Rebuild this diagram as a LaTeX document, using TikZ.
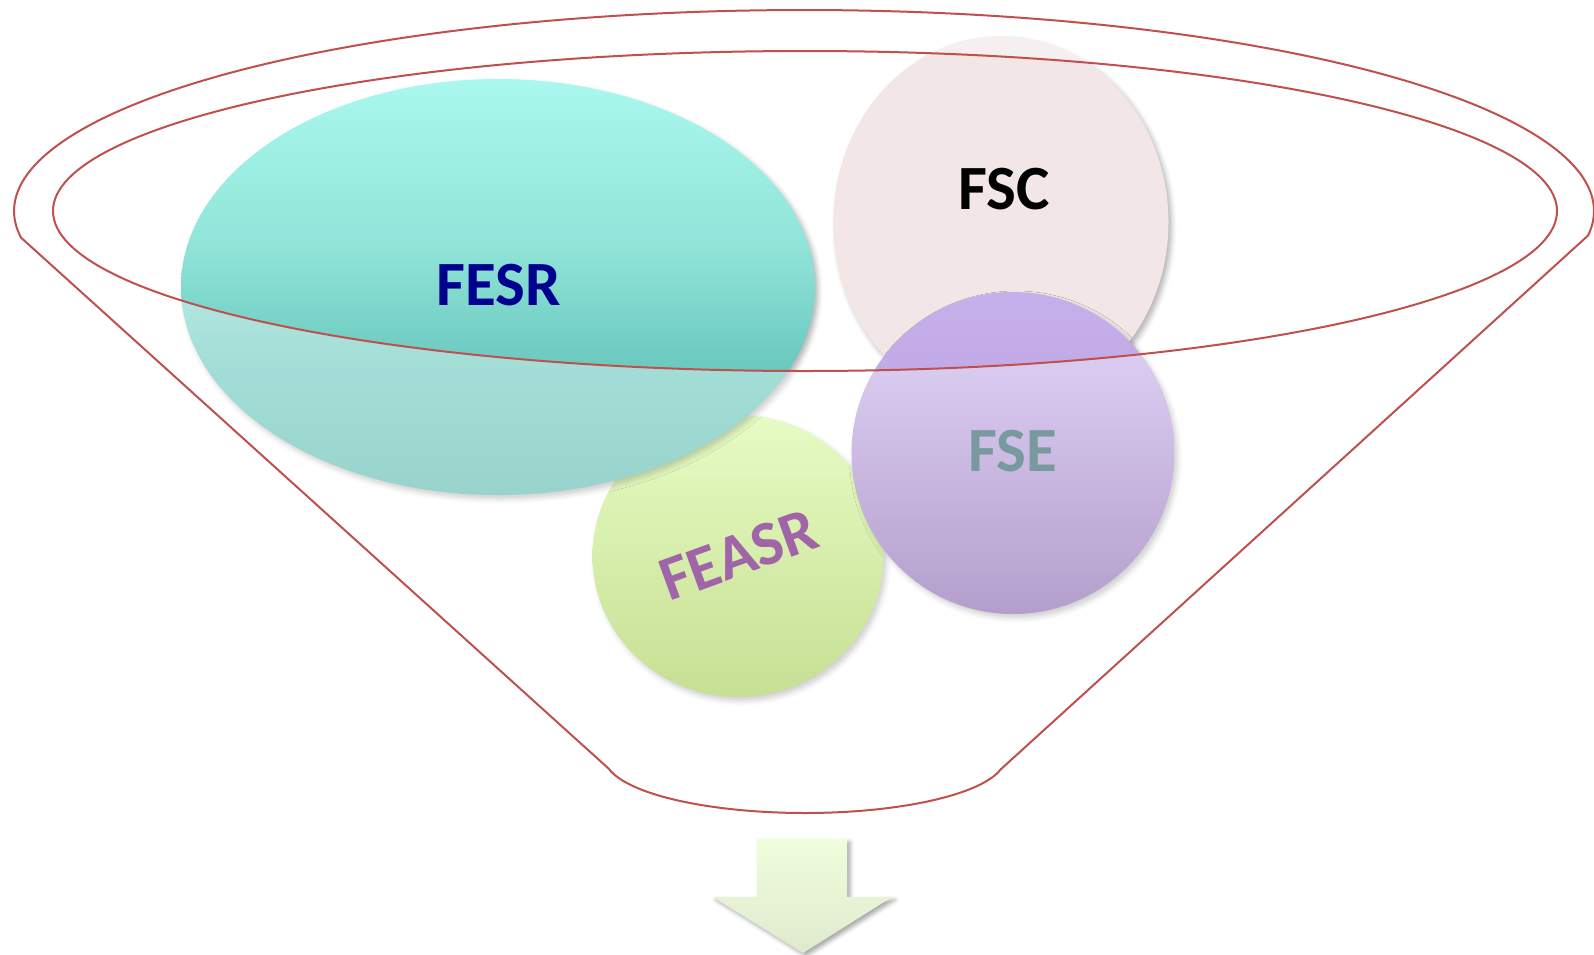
\documentclass[tikz,border=0pt]{standalone}
\usepackage{fontspec}
\setmainfont{Carlito}
\usetikzlibrary{shadows.blur,shapes.geometric}
\definecolor{lineRed}{HTML}{C0504D}
\definecolor{fesrT}{HTML}{AAF8EE}
\definecolor{fesrU}{HTML}{90E4D8}
\definecolor{fesrM}{HTML}{6CCAC0}
\definecolor{fesrB}{HTML}{59B9AD}
\definecolor{fseT}{HTML}{C6B0EC}
\definecolor{fseM}{HTML}{C2AAE6}
\definecolor{fseB}{HTML}{8664AD}
\definecolor{feasrT}{HTML}{D7FAA0}
\definecolor{feasrB}{HTML}{A6CD52}
\definecolor{fscFill}{HTML}{F2E6E6}
\definecolor{arrT}{HTML}{F0FEDC}
\definecolor{arrB}{HTML}{DFEACD}
\definecolor{fesrText}{HTML}{00008F}
\definecolor{fseText}{HTML}{789A9E}
\definecolor{feasrText}{HTML}{A064A8}
\pgfdeclareverticalshading{fesrsh}{100bp}{color(0bp)=(fesrB); color(25bp)=(fesrB); color(41bp)=(fesrM); color(55bp)=(fesrU); color(75bp)=(fesrT); color(100bp)=(fesrT)}
\pgfdeclareverticalshading{fsesh}{100bp}{color(0bp)=(fseB); color(25bp)=(fseB); color(63bp)=(fseM); color(75bp)=(fseT); color(100bp)=(fseT)}
\tikzset{
  blob/.style={ellipse, inner sep=0pt, outer sep=0pt,
    blur shadow={shadow xshift=3pt, shadow yshift=-4pt, shadow blur radius=5pt, shadow opacity=30}},
  funnelline/.style={draw=lineRed, line width=2pt, line join=round},
  funnelveil/.style={fill=white, fill opacity=0.38, even odd rule},
  lbl/.style={inner sep=0pt, font=\bfseries\fontsize{63}{63}\selectfont},
  arrowbox/.style={top color=arrT, bottom color=arrB,
    blur shadow={shadow xshift=3pt, shadow yshift=-3pt, shadow blur radius=4pt, shadow opacity=35}}
}
\begin{document}
\begin{tikzpicture}[x=1pt,y=-1pt]
\useasboundingbox (0,0) rectangle (1594,954);
% circles
\node[blob, minimum width=335pt, minimum height=372pt, fill=fscFill] (fsc) at (1001,222) {};
\node[blob, minimum width=291pt, minimum height=282pt, top color=feasrT, bottom color=feasrB] (feasr) at (738,556) {};
\node[blob, minimum width=634pt, minimum height=416pt, shading=fesrsh] (fesr) at (498,287) {};
\node[blob, minimum width=323pt, minimum height=322pt, shading=fsesh] (fse) at (1013,453) {};
% funnel veil
\path[funnelveil]
  plot[domain=172.4:367,samples=150] ({804+790*cos(\x)},{211+201*sin(\x)})
  -- (1000,770)
  -- plot[domain=12.8:168.5,samples=80] ({805+200*cos(\x)},{758+55*sin(\x)})
  -- cycle
  (805,211) ellipse [x radius=752, y radius=160];
% funnel outline
\draw[funnelline]
  plot[domain=172.4:367,samples=150] ({804+790*cos(\x)},{211+201*sin(\x)})
  -- (1000,770)
  -- plot[domain=12.8:168.5,samples=80] ({805+200*cos(\x)},{758+55*sin(\x)})
  -- cycle;
\draw[funnelline] (805,211) ellipse [x radius=752, y radius=160];
% labels
\node[lbl, text=fesrText] (tfesr) at (499,285) {FESR};
\node[lbl, text=black] (tfsc) at (1004,189) {FSC};
\node[lbl, text=fseText] (tfse) at (1013,451) {FSE};
\node[lbl, text=feasrText, rotate=20] (tfeasr) at (739,555) {FEASR};
% arrow
\path[arrowbox] (757,839) -- (847,839) -- (847,897) -- (892,897) -- (803,953) -- (713,897) -- (757,897) -- cycle;
\end{tikzpicture}
\end{document}
